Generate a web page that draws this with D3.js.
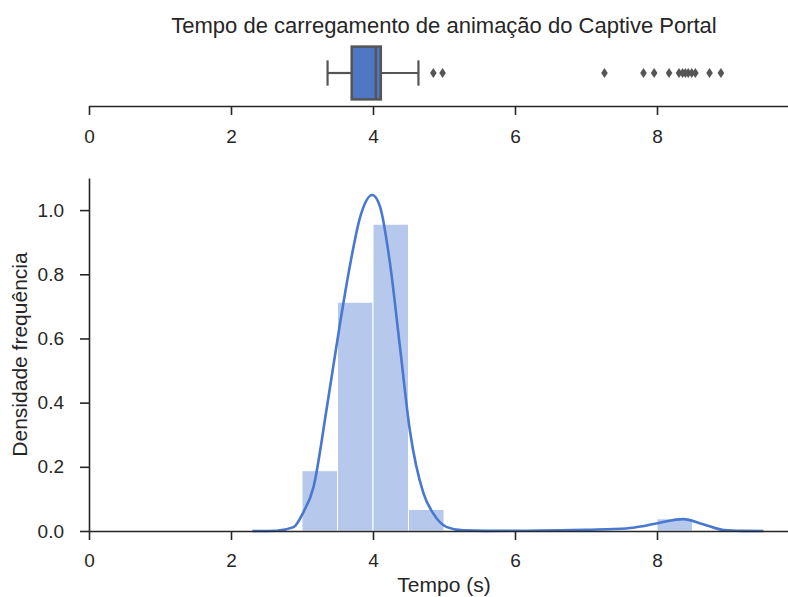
<!DOCTYPE html>
<html>
<head>
<meta charset="utf-8">
<script src="https://cdn.jsdelivr.net/npm/d3@7"></script>
<style>
    body { margin: 0; background: #fff; }
    text { font-family: 'Liberation Sans', Arial, sans-serif; fill: #262626; }
</style>
</head>
<body>
<svg id="chart" width="788" height="597"></svg>
<script>
// boxplot summary (seconds)
const boxStats = { whiskerLow: 3.36, q1: 3.70, median: 4.04, q3: 4.11, whiskerHigh: 4.64 };
const outliers = [4.85, 4.98, 7.26, 7.81, 7.96, 8.17, 8.31, 8.36, 8.40, 8.44, 8.49, 8.54, 8.74, 8.90];

// histogram (density), bins of 0.5 s
const binStarts = [3.0, 3.5, 4.0, 4.5, 8.0];
const binHeights = [0.188, 0.713, 0.956, 0.067, 0.038];
const binWidth = 0.5;

// kde curve
const kdeX = [2.30, 2.64, 2.88, 3.02, 3.16, 3.35, 3.535, 3.68, 3.82, 3.99, 4.10, 4.24, 4.38, 4.52, 4.71, 4.85, 5.04, 5.27, 5.60, 6.20, 6.63, 7.00, 7.57, 7.80, 8.04, 8.37, 8.65, 8.94, 9.20, 9.50];
const kdeY = [0.000, 0.001, 0.012, 0.059, 0.135, 0.385, 0.646, 0.833, 0.979, 1.047, 1.010, 0.833, 0.573, 0.3125, 0.118, 0.054, 0.012, 0.002, 0.0005, 0.001, 0.002, 0.004, 0.008, 0.015, 0.026, 0.037, 0.021, 0.003, 0.0005, 0.000];

const xTicks = [0, 2, 4, 6, 8];
const yTicks = [0, 0.2, 0.4, 0.6, 0.8, 1.0];

const blue = '#4878CF';
const boxFill = '#5077c4';
const gray = '#555555';
const axisColor = '#262626';

const left = 89, right = 799;
const svg = d3.select('#chart');

const x = d3.scaleLinear().domain([0, 10]).range([left, right]);

// ---------- top: boxplot ----------
const band = d3.scaleBand().domain(['t']).range([40, 106]).paddingInner(0.2).paddingOuter(0.1);
const by = band('t'), bh = band.bandwidth(), bc = by + bh / 2;

const boxG = svg.append('g');

boxG.append('line')
    .attr('x1', x(boxStats.whiskerLow)).attr('x2', x(boxStats.q1))
    .attr('y1', bc).attr('y2', bc)
    .attr('stroke', gray).attr('stroke-width', 2.2);
boxG.append('line')
    .attr('x1', x(boxStats.q3)).attr('x2', x(boxStats.whiskerHigh))
    .attr('y1', bc).attr('y2', bc)
    .attr('stroke', gray).attr('stroke-width', 2.2);
[boxStats.whiskerLow, boxStats.whiskerHigh].forEach(v => {
    boxG.append('line')
        .attr('x1', x(v)).attr('x2', x(v))
        .attr('y1', bc - bh * 0.24).attr('y2', bc + bh * 0.24)
        .attr('stroke', gray).attr('stroke-width', 2.2);
});
boxG.append('rect')
    .attr('x', x(boxStats.q1)).attr('width', x(boxStats.q3) - x(boxStats.q1))
    .attr('y', by).attr('height', bh)
    .attr('fill', boxFill).attr('stroke', gray).attr('stroke-width', 2.5);
boxG.append('line')
    .attr('x1', x(boxStats.median)).attr('x2', x(boxStats.median))
    .attr('y1', by).attr('y2', by + bh)
    .attr('stroke', gray).attr('stroke-width', 2.5);

boxG.selectAll('path.outlier')
    .data(outliers)
    .enter()
    .append('path')
        .attr('class', 'outlier')
        .attr('d', 'M0,-5L3.3,0L0,5L-3.3,0Z')
        .attr('transform', d => `translate(${x(d)},${bc})`)
        .attr('fill', gray);

const topAxis = svg.append('g')
    .attr('transform', 'translate(0,106)')
    .call(d3.axisBottom(x).tickValues(xTicks).tickFormat(d3.format('d')).tickSize(9).tickSizeOuter(0).tickPadding(15));

// ---------- bottom: histogram + kde ----------
const y = d3.scaleLinear().domain([0, 1.1]).range([531, 178]);

svg.append('g')
    .selectAll('rect')
    .data(binStarts.map((s, i) => ({ s, h: binHeights[i] })))
    .enter()
    .append('rect')
        .attr('x', d => x(d.s))
        .attr('width', d => x(d.s + binWidth) - x(d.s))
        .attr('y', d => y(d.h))
        .attr('height', d => y(0) - y(d.h))
        .attr('fill', blue).attr('fill-opacity', 0.4)
        .attr('stroke', '#ffffff').attr('stroke-width', 1);

const line = d3.line()
    .x(d => x(d[0]))
    .y(d => y(d[1]))
    .curve(d3.curveMonotoneX);

svg.append('path')
    .datum(kdeX.map((v, i) => [v, kdeY[i]]))
    .attr('d', line)
    .attr('fill', 'none')
    .attr('stroke', blue)
    .attr('stroke-width', 2.6);

const xAxis = svg.append('g')
    .attr('transform', 'translate(0,531)')
    .call(d3.axisBottom(x).tickValues(xTicks).tickFormat(d3.format('d')).tickSize(9).tickSizeOuter(0).tickPadding(14));

const yAxis = svg.append('g')
    .attr('transform', `translate(${left},0)`)
    .call(d3.axisLeft(y).tickValues(yTicks).tickFormat(d3.format('.1f')).tickSize(9).tickSizeOuter(0).tickPadding(16));

[topAxis, xAxis, yAxis].forEach(a => {
    a.select('.domain').attr('stroke', axisColor).attr('stroke-width', 1.6);
    a.selectAll('.tick line').attr('stroke', axisColor).attr('stroke-width', 1.6);
    a.selectAll('.tick text').attr('fill', axisColor).style('font-size', '19px')
        .style('font-family', "'Liberation Sans', Arial, sans-serif");
});

// labels
svg.append('text')
    .attr('x', (left + right) / 2).attr('y', 33)
    .attr('text-anchor', 'middle')
    .style('font-size', '22px')
    .text('Tempo de carregamento de animação do Captive Portal');

svg.append('text')
    .attr('x', (left + right) / 2).attr('y', 592)
    .attr('text-anchor', 'middle')
    .style('font-size', '21px')
    .text('Tempo (s)');

svg.append('text')
    .attr('transform', `translate(27,${(178 + 531) / 2}) rotate(-90)`)
    .attr('text-anchor', 'middle')
    .style('font-size', '21px')
    .text('Densidade frequência');
</script>
</body>
</html>
